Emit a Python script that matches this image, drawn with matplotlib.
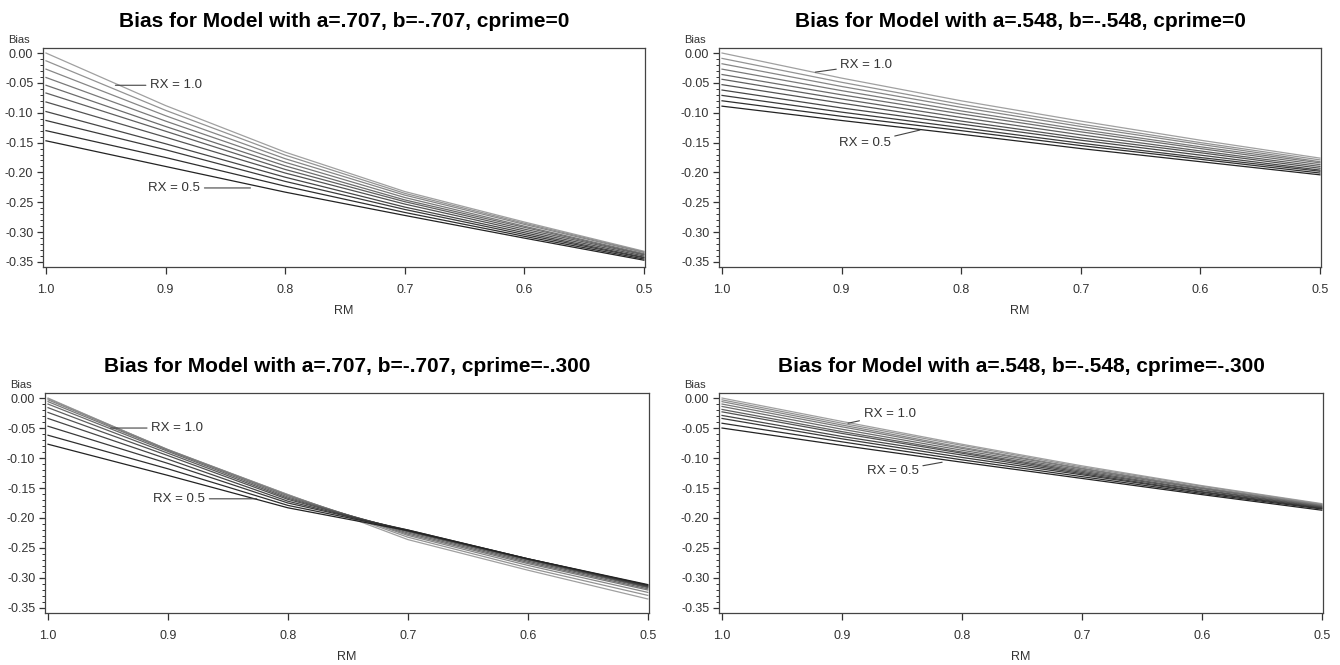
import numpy as np
import matplotlib
matplotlib.use("Agg")
import matplotlib.pyplot as plt
from matplotlib.ticker import FixedLocator, MultipleLocator

plt.rcParams['font.family'] = ['Liberation Sans', 'DejaVu Sans']
plt.rcParams['axes.unicode_minus'] = False

rm = [1.0, 0.9, 0.8, 0.7, 0.6, 0.5]
rx_labels = [1.0, 0.95, 0.9, 0.85, 0.8, 0.75, 0.7, 0.65, 0.6, 0.55, 0.5]

# one row per RX (1.0 down to 0.5), one column per RM value
bias_a707_c0 = [
    [0.000, -0.088, -0.166, -0.232, -0.283, -0.332],
    [-0.013, -0.096, -0.171, -0.235, -0.285, -0.333],
    [-0.027, -0.105, -0.177, -0.238, -0.287, -0.334],
    [-0.041, -0.114, -0.183, -0.242, -0.290, -0.336],
    [-0.054, -0.123, -0.189, -0.246, -0.292, -0.337],
    [-0.067, -0.131, -0.195, -0.249, -0.295, -0.338],
    [-0.082, -0.141, -0.201, -0.253, -0.298, -0.340],
    [-0.098, -0.152, -0.208, -0.258, -0.301, -0.342],
    [-0.113, -0.162, -0.215, -0.262, -0.304, -0.343],
    [-0.130, -0.175, -0.223, -0.267, -0.307, -0.345],
    [-0.147, -0.190, -0.233, -0.272, -0.310, -0.347],
]

bias_a548_c0 = [
    [0.000, -0.042, -0.080, -0.114, -0.146, -0.176],
    [-0.009, -0.049, -0.086, -0.119, -0.150, -0.179],
    [-0.018, -0.056, -0.091, -0.123, -0.153, -0.182],
    [-0.027, -0.063, -0.097, -0.128, -0.157, -0.184],
    [-0.036, -0.070, -0.102, -0.132, -0.160, -0.187],
    [-0.044, -0.077, -0.108, -0.137, -0.164, -0.190],
    [-0.053, -0.084, -0.114, -0.142, -0.167, -0.193],
    [-0.062, -0.092, -0.119, -0.146, -0.171, -0.196],
    [-0.071, -0.099, -0.125, -0.151, -0.175, -0.198],
    [-0.080, -0.106, -0.130, -0.155, -0.178, -0.201],
    [-0.089, -0.113, -0.136, -0.160, -0.182, -0.204],
]

bias_a707_c300 = [
    [0.000, -0.087, -0.161, -0.236, -0.287, -0.335],
    [-0.001, -0.086, -0.161, -0.232, -0.283, -0.329],
    [-0.003, -0.086, -0.162, -0.229, -0.279, -0.324],
    [-0.006, -0.087, -0.163, -0.227, -0.276, -0.320],
    [-0.010, -0.089, -0.165, -0.225, -0.274, -0.318],
    [-0.016, -0.092, -0.167, -0.223, -0.272, -0.316],
    [-0.024, -0.096, -0.169, -0.222, -0.270, -0.315],
    [-0.034, -0.102, -0.172, -0.221, -0.269, -0.314],
    [-0.047, -0.109, -0.175, -0.220, -0.268, -0.313],
    [-0.062, -0.118, -0.179, -0.220, -0.268, -0.312],
    [-0.077, -0.129, -0.183, -0.221, -0.268, -0.311],
]

bias_a548_c300 = [
    [0.000, -0.039, -0.077, -0.113, -0.146, -0.176],
    [-0.003, -0.042, -0.079, -0.115, -0.147, -0.177],
    [-0.006, -0.045, -0.082, -0.117, -0.149, -0.178],
    [-0.010, -0.048, -0.084, -0.118, -0.150, -0.179],
    [-0.014, -0.052, -0.087, -0.120, -0.151, -0.180],
    [-0.019, -0.056, -0.090, -0.122, -0.153, -0.181],
    [-0.023, -0.059, -0.092, -0.124, -0.154, -0.182],
    [-0.029, -0.064, -0.095, -0.126, -0.156, -0.183],
    [-0.034, -0.068, -0.099, -0.128, -0.157, -0.184],
    [-0.042, -0.073, -0.103, -0.131, -0.159, -0.185],
    [-0.050, -0.079, -0.107, -0.134, -0.161, -0.187],
]

titles = [
    "Bias for Model with a=.707, b=-.707, cprime=0",
    "Bias for Model with a=.548, b=-.548, cprime=0",
    "Bias for Model with a=.707, b=-.707, cprime=-.300",
    "Bias for Model with a=.548, b=-.548, cprime=-.300",
]
panels = [bias_a707_c0, bias_a548_c0, bias_a707_c300, bias_a548_c300]

xticks = [1.0, 0.9, 0.8, 0.7, 0.6, 0.5]
yticks = [0.0, -0.05, -0.10, -0.15, -0.20, -0.25, -0.30, -0.35]

# axes boxes in figure fractions (left, bottom, width, height)
boxes = [
    [0.0321, 0.5985, 0.4493, 0.3293],
    [0.5366, 0.5985, 0.4493, 0.3293],
    [0.0336, 0.0782, 0.4507, 0.3308],
    [0.5366, 0.0782, 0.4507, 0.3308],
]
# label anchor points: (xy on curve, text pos, ha) for RX=1.0 and RX=0.5
notes = [
    [((0.942, -0.054), (0.913, -0.054), 'left'), ((0.829, -0.226), (0.871, -0.226), 'right')],
    [((0.922, -0.032), (0.901, -0.020), 'left'), ((0.8345, -0.129), (0.859, -0.151), 'right')],
    [((0.948, -0.050), (0.914, -0.050), 'left'), ((0.826, -0.168), (0.869, -0.168), 'right')],
    [((0.895, -0.042), (0.882, -0.027), 'left'), ((0.8165, -0.107), (0.836, -0.122), 'right')],
]

grays = ['#a0a0a0', '#939393', '#868686', '#797979', '#6c6c6c', '#5f5f5f',
         '#525252', '#464646', '#3a3a3a', '#2e2e2e', '#232323']

fig = plt.figure(figsize=(13.4, 6.65), dpi=100)

for i in range(4):
    ax = fig.add_axes(boxes[i])
    data = panels[i]
    for j in range(len(rx_labels)):
        ax.plot(rm, data[j], color=grays[j], lw=0.9)

    ax.set_xlim(1.0025, 0.499)
    ax.set_ylim(-0.3584, 0.0084)
    ax.xaxis.set_major_locator(FixedLocator(xticks))
    ax.set_xticklabels(['%.1f' % t for t in xticks])
    ax.yaxis.set_major_locator(FixedLocator(yticks))
    ax.set_yticklabels(['%.2f' % t if t != 0 else '0.00' for t in yticks])
    ax.yaxis.set_minor_locator(MultipleLocator(0.01))
    ax.tick_params(axis='x', direction='out', length=5, width=0.9, pad=7.5,
                   labelsize=9, colors='#333333')
    ax.tick_params(axis='y', which='major', direction='out', length=4, width=0.9,
                   pad=3, labelsize=9, colors='#333333')
    ax.tick_params(axis='y', which='minor', direction='out', length=2, width=0.7,
                   colors='#333333')
    for s in ax.spines.values():
        s.set_color('#444444')
        s.set_linewidth(0.9)

    ax.set_title(titles[i], fontsize=15, fontweight='bold', pad=15)
    ax.set_xlabel('RM', fontsize=9, color='#333333', labelpad=6.5)
    ax.text(-0.058, 1.012, 'Bias', transform=ax.transAxes, fontsize=8,
            color='#333333', ha='left', va='bottom')

    n1, n5 = notes[i]
    ax.annotate('RX = 1.0', xy=n1[0], xytext=n1[1], ha=n1[2], va='center',
                fontsize=9.5, color='#333333',
                arrowprops=dict(arrowstyle='-', color='#444444', lw=0.8,
                                shrinkA=1, shrinkB=0))
    ax.annotate('RX = 0.5', xy=n5[0], xytext=n5[1], ha=n5[2], va='center',
                fontsize=9.5, color='#333333',
                arrowprops=dict(arrowstyle='-', color='#444444', lw=0.8,
                                shrinkA=1, shrinkB=0))

fig.savefig('out.png', dpi=100, facecolor='white')
